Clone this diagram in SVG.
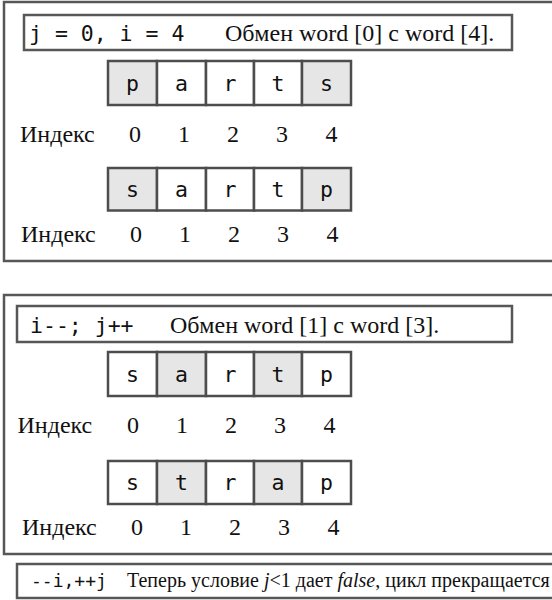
<svg xmlns="http://www.w3.org/2000/svg" width="552" height="600" viewBox="0 0 552 600">
<style>
.frame{fill:none;stroke:#575757;stroke-width:2.5}
.hdr{fill:#fff;stroke:#575757;stroke-width:2.5}
.cell{fill:#fff;stroke:#4d4d4d;stroke-width:2.5}
.hl{fill:#e6e6e6}
.mono{font-family:'DejaVu Sans Mono',monospace;font-size:21.5px;fill:#111}
.cl{font-family:'DejaVu Sans Mono',monospace;font-size:21.5px;fill:#111;text-anchor:middle}
.serif{font-family:'Liberation Serif','Times New Roman',serif;font-size:24px;fill:#111}
.dig{font-family:'Liberation Serif','Times New Roman',serif;font-size:24px;fill:#111;text-anchor:middle}
</style>
<rect width="552" height="600" fill="#fff"/>

<g id="panel1">
<rect class="frame" x="4" y="2" width="570" height="259"/>
<g id="header1">
<rect class="hdr" x="24" y="15" width="488" height="35"/>
<text class="mono" x="29" y="40.5">j = 0, i = 4</text>
<text class="serif" x="225" y="40.5">Обмен word [0] c word [4].</text>
</g>
<g id="p1row1">
<rect class="cell hl" x="108" y="61" width="49" height="44"/>
<rect class="cell" x="157" y="61" width="49" height="44"/>
<rect class="cell" x="206" y="61" width="48" height="44"/>
<rect class="cell" x="254" y="61" width="48" height="44"/>
<rect class="cell hl" x="302" y="61" width="49" height="44"/>
<text class="cl" x="132.5" y="91">p</text>
<text class="cl" x="181.5" y="91">a</text>
<text class="cl" x="230" y="91">r</text>
<text class="cl" x="278" y="91">t</text>
<text class="cl" x="326.5" y="91">s</text>
</g>
<g id="p1idx1">
<text class="serif" x="20" y="142">Индекс</text>
<text class="dig" x="135" y="142">0</text>
<text class="dig" x="184" y="142">1</text>
<text class="dig" x="233" y="142">2</text>
<text class="dig" x="282" y="142">3</text>
<text class="dig" x="331.5" y="142">4</text>
</g>
<g id="p1row2">
<rect class="cell hl" x="108" y="168" width="49" height="42.5"/>
<rect class="cell" x="157" y="168" width="49" height="42.5"/>
<rect class="cell" x="206" y="168" width="48" height="42.5"/>
<rect class="cell" x="254" y="168" width="48" height="42.5"/>
<rect class="cell hl" x="302" y="168" width="49" height="42.5"/>
<text class="cl" x="132.5" y="197">s</text>
<text class="cl" x="181.5" y="197">a</text>
<text class="cl" x="230" y="197">r</text>
<text class="cl" x="278" y="197">t</text>
<text class="cl" x="326.5" y="197">p</text>
</g>
<g id="p1idx2">
<text class="serif" x="21" y="242">Индекс</text>
<text class="dig" x="136" y="242">0</text>
<text class="dig" x="185" y="242">1</text>
<text class="dig" x="234" y="242">2</text>
<text class="dig" x="283" y="242">3</text>
<text class="dig" x="332.5" y="242">4</text>
</g>
</g>

<g id="panel2">
<rect class="frame" x="4" y="295" width="570" height="259"/>
<g id="header2">
<rect class="hdr" x="17" y="306" width="495" height="36"/>
<text class="mono" x="30" y="333">i--; j++</text>
<text class="serif" x="170" y="333">Обмен word [1] c word [3].</text>
</g>
<g id="p2row1">
<rect class="cell" x="108" y="352" width="49" height="44"/>
<rect class="cell hl" x="157" y="352" width="49" height="44"/>
<rect class="cell" x="206" y="352" width="48" height="44"/>
<rect class="cell hl" x="254" y="352" width="48" height="44"/>
<rect class="cell" x="302" y="352" width="49" height="44"/>
<text class="cl" x="132.5" y="382">s</text>
<text class="cl" x="181.5" y="382">a</text>
<text class="cl" x="230" y="382">r</text>
<text class="cl" x="278" y="382">t</text>
<text class="cl" x="326.5" y="382">p</text>
</g>
<g id="p2idx1">
<text class="serif" x="17.5" y="433">Индекс</text>
<text class="dig" x="133" y="433">0</text>
<text class="dig" x="182" y="433">1</text>
<text class="dig" x="231" y="433">2</text>
<text class="dig" x="280" y="433">3</text>
<text class="dig" x="329.5" y="433">4</text>
</g>
<g id="p2row2">
<rect class="cell" x="108" y="461" width="49" height="43"/>
<rect class="cell hl" x="157" y="461" width="49" height="43"/>
<rect class="cell" x="206" y="461" width="48" height="43"/>
<rect class="cell hl" x="254" y="461" width="48" height="43"/>
<rect class="cell" x="302" y="461" width="49" height="43"/>
<text class="cl" x="132.5" y="490">s</text>
<text class="cl" x="181.5" y="490">t</text>
<text class="cl" x="230" y="490">r</text>
<text class="cl" x="278" y="490">a</text>
<text class="cl" x="326.5" y="490">p</text>
</g>
<g id="p2idx2">
<text class="serif" x="22" y="535">Индекс</text>
<text class="dig" x="137" y="535">0</text>
<text class="dig" x="186" y="535">1</text>
<text class="dig" x="235" y="535">2</text>
<text class="dig" x="284" y="535">3</text>
<text class="dig" x="333.5" y="535">4</text>
</g>
</g>

<g id="footer">
<rect class="hdr" x="17" y="564" width="570" height="34"/>
<text class="mono" x="31" y="587" style="font-size:18px">--i,++j</text>
<text class="serif" x="127" y="587" style="font-size:20px">Теперь условие <tspan font-style="italic">j</tspan>&lt;1 дает <tspan font-style="italic">false</tspan>, цикл прекращается</text>
</g>
</svg>
